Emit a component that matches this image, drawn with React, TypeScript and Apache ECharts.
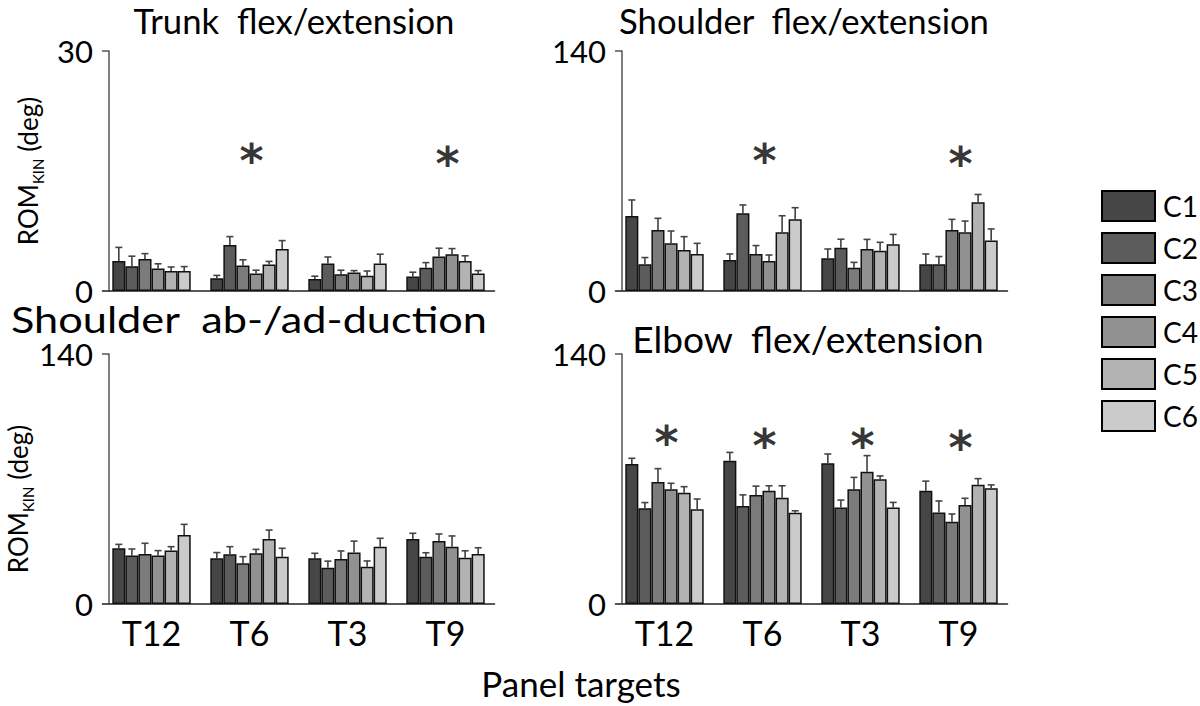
import React, { useEffect, useRef } from "react";
import * as echarts from "echarts";

const categories = ["T12", "T6", "T3", "T9"];
const conditions = ["C1", "C2", "C3", "C4", "C5", "C6"];
const barColors = ["#464646", "#5c5c5c", "#7b7b7b", "#919191", "#b3b3b3", "#cbcbcb"];

// rows = conditions C1..C6, columns = T12, T6, T3, T9
const trunkMean = [
  [3.75, 1.6, 1.5, 1.8],
  [3.1, 5.75, 3.45, 2.9],
  [4.0, 3.2, 2.1, 4.3],
  [2.8, 2.2, 2.3, 4.6],
  [2.5, 3.3, 1.9, 3.75],
  [2.5, 5.25, 3.45, 2.2],
];
const trunkErr = [
  [1.7, 0.35, 0.35, 0.55],
  [1.25, 1.05, 0.8, 0.65],
  [0.67, 0.7, 0.5, 1.05],
  [0.6, 0.4, 0.25, 0.7],
  [0.5, 0.4, 0.6, 0.65],
  [0.55, 1.05, 1.15, 0.35],
];
const trunkStars = [null, 17.6, null, 17.3];

const shFlexMean = [
  [43.8, 18.1, 19.1, 15.6],
  [15.6, 45.3, 25.3, 15.6],
  [35.6, 21.6, 13.6, 35.6],
  [27.8, 17.5, 24.5, 34.2],
  [23.9, 34.2, 23.5, 51.7],
  [21.6, 41.8, 27.2, 29.4],
];
const shFlexErr = [
  [9.3, 3.5, 5.4, 6.0],
  [3.9, 4.9, 4.9, 4.5],
  [6.8, 4.9, 3.1, 6.2],
  [7.2, 3.5, 5.6, 6.6],
  [7.8, 9.7, 4.9, 4.6],
  [6.2, 6.8, 5.8, 6.8],
];
const shFlexStars = [null, 82.3, null, 80.3];

const shAbMean = [
  [31.2, 25.6, 25.6, 36.4],
  [27.1, 27.8, 20.3, 26.5],
  [28.0, 22.8, 25.2, 35.3],
  [27.1, 28.4, 28.9, 32.1],
  [29.9, 36.4, 20.9, 25.9],
  [38.6, 26.5, 32.1, 28.0],
];
const shAbErr = [
  [2.2, 3.2, 2.8, 3.2],
  [3.7, 4.3, 3.7, 2.2],
  [6.0, 3.7, 4.5, 3.9],
  [2.8, 2.2, 6.3, 6.0],
  [2.2, 5.0, 3.2, 3.9],
  [6.0, 4.7, 4.7, 3.5],
];
const shAbStars = [null, null, null, null];

const elbowMean = [
  [78.4, 80.2, 78.8, 63.4],
  [53.6, 54.9, 54.1, 51.3],
  [68.3, 61.0, 64.2, 46.1],
  [64.2, 63.4, 74.1, 55.4],
  [62.3, 59.5, 69.8, 66.8],
  [53.0, 51.1, 54.1, 64.8],
];
const elbowErr = [
  [3.2, 4.7, 5.2, 5.4],
  [3.2, 6.2, 4.1, 6.4],
  [7.5, 5.0, 6.7, 4.3],
  [3.4, 2.8, 9.0, 3.8],
  [3.4, 6.7, 1.9, 3.4],
  [5.8, 1.1, 2.8, 1.9],
];
const elbowStars = [96.5, 94.6, 94.6, 93.3];

const panelTitles = [
  "Trunk  flex/extension",
  "Shoulder  flex/extension",
  "Shoulder  ab-/ad-duction",
  "Elbow  flex/extension",
];
const panelMax = [30, 140, 140, 140];
const yAxisTitle = "{a|ROM}{b|KIN}{a| (deg)}";
const xAxisTitle = "Panel targets";

const FONT = "Lato";

const panels = [
  { title: panelTitles[0], mean: trunkMean, err: trunkErr, stars: trunkStars, max: panelMax[0], grid: { left: 102.5, top: 51, width: 392, height: 240 }, leftCol: true, bottomRow: false, tx: 294, ty: 4, tsize: 34, tscale: 1.02, namePad: [0, 0, 0, 0] },
  { title: panelTitles[1], mean: shFlexMean, err: shFlexErr, stars: shFlexStars, max: panelMax[1], grid: { left: 615.5, top: 51, width: 392, height: 240 }, leftCol: false, bottomRow: false, tx: 804, ty: 4, tsize: 34, tscale: 1.02, namePad: [0, 0, 0, 0] },
  { title: panelTitles[2], mean: shAbMean, err: shAbErr, stars: shAbStars, max: panelMax[2], grid: { left: 102.5, top: 354, width: 392, height: 250 }, leftCol: true, bottomRow: true, tx: 249, ty: 300, tsize: 37, tscale: 1.17, namePad: [0, 40, 0, 0] },
  { title: panelTitles[3], mean: elbowMean, err: elbowErr, stars: elbowStars, max: panelMax[3], grid: { left: 615.5, top: 354, width: 392, height: 250 }, leftCol: false, bottomRow: true, tx: 808, ty: 321, tsize: 36, tscale: 1.03, namePad: [0, 0, 0, 0] },
];

function buildOption() {
  const grids: any[] = [];
  const xAxes: any[] = [];
  const yAxes: any[] = [];
  const series: any[] = [];
  const graphics: any[] = [];

  panels.forEach((p, gi) => {
    grids.push({ ...p.grid, containLabel: false });
    xAxes.push({
      type: "category",
      gridIndex: gi,
      data: categories,
      axisLine: { show: true, lineStyle: { color: "#222", width: 1.5 } },
      axisTick: { show: false },
      axisLabel: { show: p.bottomRow, fontSize: 34, fontFamily: FONT, color: "#000", margin: 11 },
      splitLine: { show: false },
    });
    yAxes.push({
      type: "value",
      gridIndex: gi,
      min: 0,
      max: p.max,
      interval: p.max,
      offset: -6.5,
      axisLine: { show: true, lineStyle: { color: "#555", width: 1.5 } },
      axisTick: { show: true, length: 7, lineStyle: { color: "#555", width: 1.5 } },
      axisLabel: { fontSize: 31, fontFamily: FONT, color: "#000", margin: 16 },
      splitLine: { show: false },
      name: p.leftCol ? yAxisTitle : "",
      nameLocation: "middle",
      nameRotate: 90,
      nameGap: 64,
      nameTextStyle: {
        padding: p.namePad,
        rich: {
          a: { fontSize: 26, fontFamily: FONT, color: "#000", lineHeight: 34, verticalAlign: "middle" },
          b: { fontSize: 15, fontFamily: FONT, color: "#000", lineHeight: 34, verticalAlign: "bottom" },
        },
      },
    });

    conditions.forEach((c, ci) => {
      series.push({
        type: "bar",
        name: c,
        xAxisIndex: gi,
        yAxisIndex: gi,
        data: p.mean[ci],
        barGap: "0%",
        barCategoryGap: "20%",
        itemStyle: { color: barColors[ci], borderColor: "#111", borderWidth: 1.5 },
        z: 2,
      });
    });
    conditions.forEach((c, ci) => {
      const means = p.mean[ci];
      const errs = p.err[ci];
      series.push({
        type: "custom",
        name: "err-" + c,
        xAxisIndex: gi,
        yAxisIndex: gi,
        silent: true,
        z: 3,
        data: means.map((m: number, k: number) => [k, m, m + errs[k]]),
        renderItem: (params: any, api: any) => {
          const k = api.value(0);
          const base = api.coord([k, api.value(1)]);
          const top = api.coord([k, api.value(2)]);
          const band = api.size([1, 0])[0];
          const bw = (band * 0.8) / 6;
          const x = base[0] - band * 0.4 + (ci + 0.5) * bw;
          return {
            type: "group",
            children: [
              { type: "line", shape: { x1: x, y1: base[1], x2: x, y2: top[1] }, style: { stroke: "#333", lineWidth: 1.5 } },
              { type: "line", shape: { x1: x - 3.5, y1: top[1], x2: x + 3.5, y2: top[1] }, style: { stroke: "#444", lineWidth: 1.6 } },
            ],
          };
        },
      });
    });
    series.push({
      type: "scatter",
      name: "sig",
      xAxisIndex: gi,
      yAxisIndex: gi,
      symbolSize: 0,
      silent: true,
      z: 4,
      data: p.stars.map((v: number | null, k: number) => (v === null ? null : [k, v])).filter((d: any) => d !== null),
      label: {
        show: true,
        position: "inside",
        formatter: "*",
        fontSize: 46,
        fontWeight: "bold",
        fontFamily: "DejaVu Sans",
        color: "#000",
        offset: [2, 11],
      },
    });

    graphics.push({
      type: "text",
      x: p.tx,
      y: p.ty,
      scaleX: p.tscale,
      style: { text: p.title, font: `${p.tsize}px ${FONT}`, fill: "#000", textAlign: "center", textVerticalAlign: "top" },
    });
  });

  graphics.push({
    type: "text",
    x: 581,
    y: 683,
    style: { text: xAxisTitle, font: `35px ${FONT}`, fill: "#000", textAlign: "center", textVerticalAlign: "middle" },
  });

  return {
    animation: false,
    backgroundColor: "#fff",
    grid: grids,
    xAxis: xAxes,
    yAxis: yAxes,
    series,
    graphic: graphics,
    legend: {
      data: conditions,
      orient: "vertical",
      left: 1096,
      top: 185,
      itemWidth: 53,
      itemHeight: 30,
      itemGap: 10,
      icon: "rect",
      itemStyle: { borderColor: "#000", borderWidth: 2 },
      textStyle: { fontSize: 28, fontFamily: FONT, color: "#000", padding: [0, 0, 0, 3] },
    },
  };
}

export default function App() {
  const ref = useRef<HTMLDivElement | null>(null);
  useEffect(() => {
    if (!ref.current) return;
    const chart = echarts.init(ref.current, undefined, { renderer: "svg" });
    chart.setOption(buildOption() as any);
    return () => chart.dispose();
  }, []);
  return <div ref={ref} style={{ position: "absolute", left: 0, top: 0, width: 1200, height: 706 }} />;
}
